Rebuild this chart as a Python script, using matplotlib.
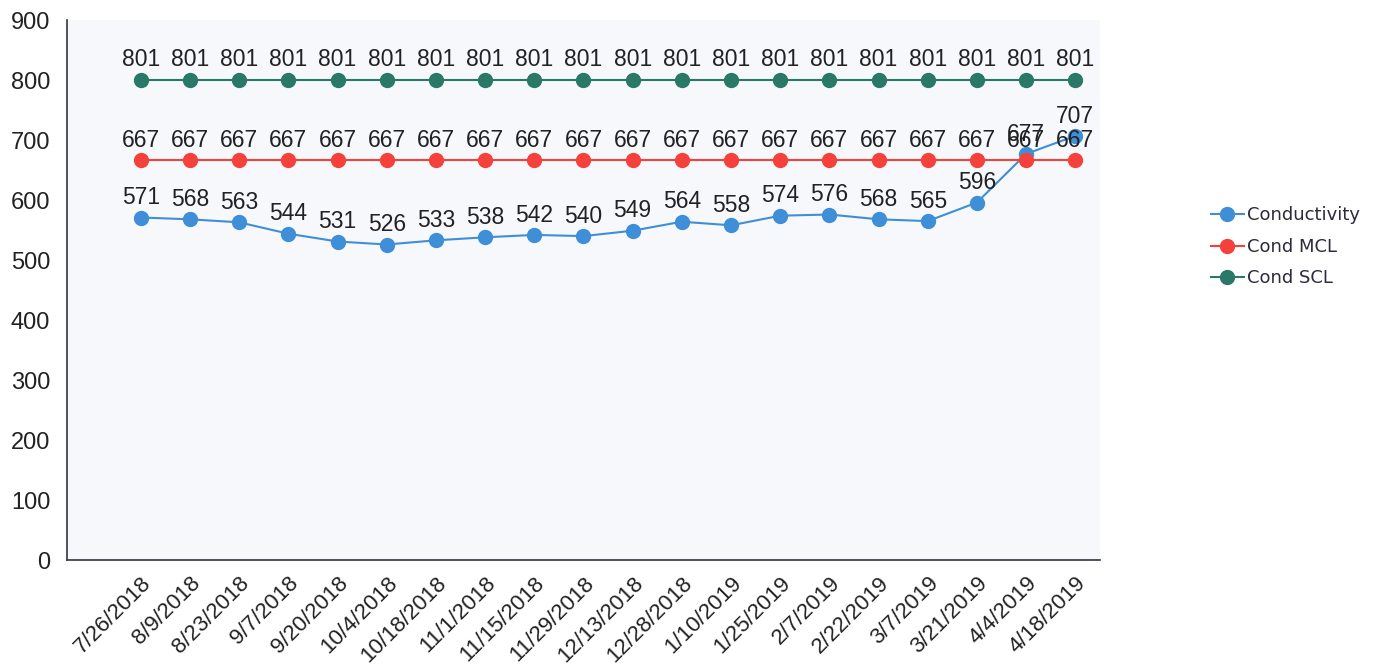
import numpy as np
import matplotlib.pyplot as plt

# - Data
dates = ['7/26/2018', '8/9/2018', '8/23/2018', '9/7/2018', '9/20/2018', '10/4/2018',
         '10/18/2018', '11/1/2018', '11/15/2018', '11/29/2018', '12/13/2018', '12/28/2018',
         '1/10/2019', '1/25/2019', '2/7/2019', '2/22/2019', '3/7/2019', '3/21/2019',
         '4/4/2019', '4/18/2019']
conductivity = [571, 568, 563, 544, 531, 526, 533, 538, 542, 540, 549, 564,
                558, 574, 576, 568, 565, 596, 677, 707]
cond_mcl = [667] * 20
cond_scl = [801] * 20

series = [('Conductivity', conductivity, '#3f8ed8'),
          ('Cond MCL', cond_mcl, '#f5413b'),
          ('Cond SCL', cond_scl, '#2a7868')]

plt.rcParams['font.family'] = ['Liberation Sans', 'DejaVu Sans']

fig = plt.figure(figsize=(13.79, 6.70), dpi=100)
ax = fig.add_axes([0.0486, 0.164, 0.749, 0.806])
ax.set_facecolor('#f6f8fc')

x = np.arange(len(dates))
for name, vals, col in series:
    ax.plot(x, vals, '-o', color=col, lw=1.5, ms=10, label=name, zorder=3)
    for xi, v in zip(x, vals):
        ax.annotate(str(v), (xi, v), xytext=(0, 6), textcoords='offset points',
                    ha='center', va='bottom', fontsize=16.5, color='#222222', zorder=4)

ax.set_xlim(-1.5, 19.5)
ax.set_ylim(0, 900)
ax.set_yticks(range(0, 901, 100))
ax.set_xticks(x)
ax.set_xticklabels(dates, rotation=45, ha='right', rotation_mode='anchor')
ax.tick_params(axis='y', length=0, labelsize=17, labelcolor='#222222', pad=12)
ax.tick_params(axis='x', length=0, labelsize=16, labelcolor='#222222', pad=9)

for s in ['top', 'right']:
    ax.spines[s].set_visible(False)
for s in ['left', 'bottom']:
    ax.spines[s].set_color('#333344')
    ax.spines[s].set_linewidth(1.2)

leg = ax.legend(loc='center left', bbox_to_anchor=(1.092, 0.58), frameon=False,
                prop={'family': 'DejaVu Sans', 'size': 13}, handlelength=1.8,
                handletextpad=0.2, labelspacing=0.75, labelcolor='#2b2b3b')

plt.savefig('out.png', dpi=100)
